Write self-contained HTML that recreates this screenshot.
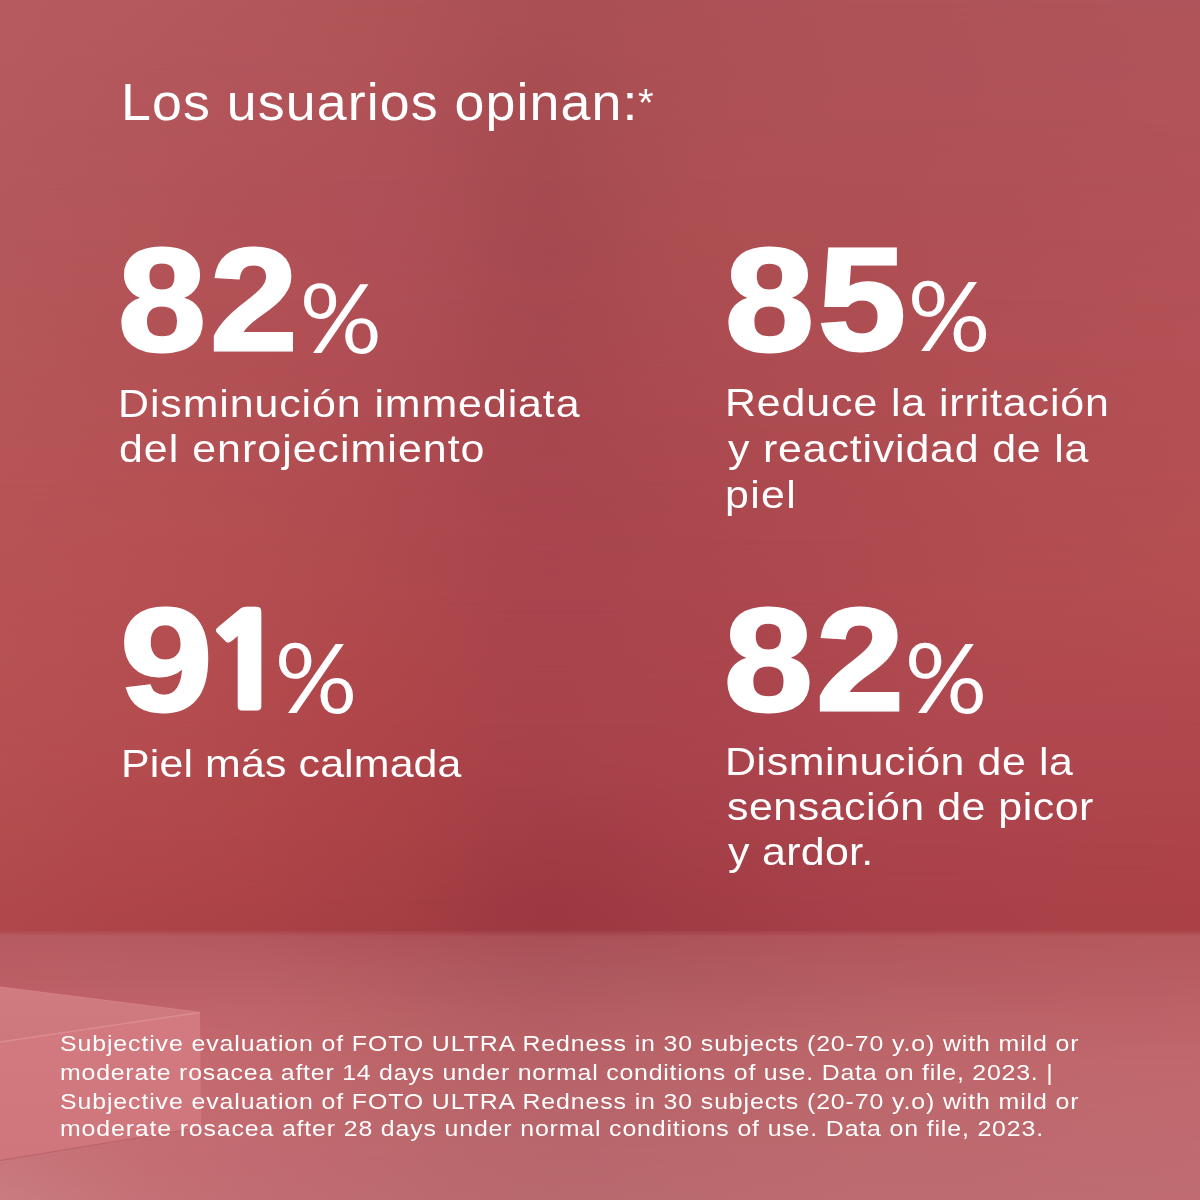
<!DOCTYPE html>
<html lang="es"><head><meta charset="utf-8">
<title>Los usuarios opinan</title>
<style>
html,body{margin:0;padding:0;}
body{width:1200px;height:1200px;overflow:hidden;position:relative;background:#ac4e56;font-family:"Liberation Sans",sans-serif;color:#fff;}
.t{position:absolute;white-space:nowrap;transform-origin:0 0;}
.b{font-weight:bold;}
.bd{position:absolute;left:0;width:1200px;}
.mk{position:absolute;left:0;top:0;width:100%;height:100%;-webkit-mask-image:linear-gradient(to bottom,transparent,#000);mask-image:linear-gradient(to bottom,transparent,#000);}
.box{position:absolute;left:0;top:0;}
.fl{position:absolute;left:0;top:0;width:1200px;height:1200px;-webkit-mask-image:linear-gradient(to bottom,transparent 930px,#000 936px);mask-image:linear-gradient(to bottom,transparent 930px,#000 936px);}
</style></head><body>
<div class="bd" style="top:0px;height:60px;background:linear-gradient(to right,#b75b5f 0px,#b65a5f 50px,#b65a5e 100px,#b5595e 150px,#b4585d 200px,#b3575c 250px,#b2565a 300px,#b15558 350px,#b05457 400px,#ae5256 450px,#ac5154 500px,#ab5054 550px,#ab5054 600px,#ac5155 650px,#ad5156 700px,#ae5157 750px,#ae5257 800px,#af5358 850px,#af5358 900px,#af5358 950px,#af5459 1000px,#b05459 1050px,#b05459 1100px,#b0555a 1150px,#b0555a 1200px)"><div class="mk" style="background:linear-gradient(to right,#b65a5e 0px,#b5595d 50px,#b5585d 100px,#b4575c 150px,#b3565b 200px,#b3555b 250px,#b25559 300px,#b15458 350px,#b05257 400px,#ad5155 450px,#aa4f53 500px,#a94e53 550px,#aa4f53 600px,#ac5054 650px,#ad5055 700px,#ae5156 750px,#ae5156 800px,#af5257 850px,#af5257 900px,#af5258 950px,#b05358 1000px,#b05358 1050px,#b05359 1100px,#b15459 1150px,#b15459 1200px)"></div></div>
<div class="bd" style="top:60px;height:60px;background:linear-gradient(to right,#b65a5e 0px,#b5595d 50px,#b5585d 100px,#b4575c 150px,#b3565b 200px,#b3555b 250px,#b25559 300px,#b15458 350px,#b05257 400px,#ad5155 450px,#aa4f53 500px,#a94e53 550px,#aa4f53 600px,#ac5054 650px,#ad5055 700px,#ae5156 750px,#ae5156 800px,#af5257 850px,#af5257 900px,#af5258 950px,#b05358 1000px,#b05358 1050px,#b05359 1100px,#b15459 1150px,#b15459 1200px)"><div class="mk" style="background:linear-gradient(to right,#b5595d 0px,#b4585c 50px,#b4575b 100px,#b3565b 150px,#b3555a 200px,#b25459 250px,#b15358 300px,#b05257 350px,#af5156 400px,#ac4f55 450px,#a94d52 500px,#a74d51 550px,#a94e52 600px,#ab4f53 650px,#ad5054 700px,#ae5055 750px,#ae5155 800px,#af5156 850px,#af5156 900px,#af5157 950px,#b05257 1000px,#b05258 1050px,#b15258 1100px,#b25358 1150px,#b25359 1200px)"></div></div>
<div class="bd" style="top:120px;height:60px;background:linear-gradient(to right,#b5595d 0px,#b4585c 50px,#b4575b 100px,#b3565b 150px,#b3555a 200px,#b25459 250px,#b15358 300px,#b05257 350px,#af5156 400px,#ac4f55 450px,#a94d52 500px,#a74d51 550px,#a94e52 600px,#ab4f53 650px,#ad5054 700px,#ae5055 750px,#ae5155 800px,#af5156 850px,#af5156 900px,#af5157 950px,#b05257 1000px,#b05258 1050px,#b15258 1100px,#b25358 1150px,#b25359 1200px)"><div class="mk" style="background:linear-gradient(to right,#b4585c 0px,#b4575b 50px,#b3565a 100px,#b35559 150px,#b25358 200px,#b15258 250px,#b15157 300px,#b05057 350px,#af4f56 400px,#ac4e54 450px,#a84c51 500px,#a64b50 550px,#a84d51 600px,#ab4e52 650px,#ad4f53 700px,#ae5054 750px,#ae5054 800px,#af5055 850px,#af5055 900px,#b05156 950px,#b05156 1000px,#b15157 1050px,#b25257 1100px,#b25258 1150px,#b35258 1200px)"></div></div>
<div class="bd" style="top:180px;height:60px;background:linear-gradient(to right,#b4585c 0px,#b4575b 50px,#b3565a 100px,#b35559 150px,#b25358 200px,#b15258 250px,#b15157 300px,#b05057 350px,#af4f56 400px,#ac4e54 450px,#a84c51 500px,#a64b50 550px,#a84d51 600px,#ab4e52 650px,#ad4f53 700px,#ae5054 750px,#ae5054 800px,#af5055 850px,#af5055 900px,#b05156 950px,#b05156 1000px,#b15157 1050px,#b25257 1100px,#b25258 1150px,#b35258 1200px)"><div class="mk" style="background:linear-gradient(to right,#b4575b 0px,#b4565a 50px,#b35559 100px,#b35458 150px,#b25257 200px,#b15157 250px,#b15056 300px,#b04f56 350px,#af4e56 400px,#ac4d53 450px,#a84b51 500px,#a64a50 550px,#a84b50 600px,#ab4d51 650px,#ad4e52 700px,#ae4f53 750px,#ae4f53 800px,#ae4f54 850px,#af4f54 900px,#b05055 950px,#b05055 1000px,#b15056 1050px,#b25156 1100px,#b25157 1150px,#b35257 1200px)"></div></div>
<div class="bd" style="top:240px;height:60px;background:linear-gradient(to right,#b4575b 0px,#b4565a 50px,#b35559 100px,#b35458 150px,#b25257 200px,#b15157 250px,#b15056 300px,#b04f56 350px,#af4e56 400px,#ac4d53 450px,#a84b51 500px,#a64a50 550px,#a84b50 600px,#ab4d51 650px,#ad4e52 700px,#ae4f53 750px,#ae4f53 800px,#ae4f54 850px,#af4f54 900px,#b05055 950px,#b05055 1000px,#b15056 1050px,#b25156 1100px,#b25157 1150px,#b35257 1200px)"><div class="mk" style="background:linear-gradient(to right,#b5575a 0px,#b45559 50px,#b45458 100px,#b35357 150px,#b25256 200px,#b25156 250px,#b15055 300px,#b04f55 350px,#af4e55 400px,#ac4c53 450px,#a84a50 500px,#a7494f 550px,#a84a50 600px,#ab4c51 650px,#ad4d52 700px,#ad4e52 750px,#ae4e53 800px,#ae4e53 850px,#af4f53 900px,#b04f54 950px,#b04f55 1000px,#b15055 1050px,#b25056 1100px,#b35156 1150px,#b35157 1200px)"></div></div>
<div class="bd" style="top:300px;height:60px;background:linear-gradient(to right,#b5575a 0px,#b45559 50px,#b45458 100px,#b35357 150px,#b25256 200px,#b25156 250px,#b15055 300px,#b04f55 350px,#af4e55 400px,#ac4c53 450px,#a84a50 500px,#a7494f 550px,#a84a50 600px,#ab4c51 650px,#ad4d52 700px,#ad4e52 750px,#ae4e53 800px,#ae4e53 850px,#af4f53 900px,#b04f54 950px,#b04f55 1000px,#b15055 1050px,#b25056 1100px,#b35156 1150px,#b35157 1200px)"><div class="mk" style="background:linear-gradient(to right,#b55659 0px,#b55558 50px,#b45357 100px,#b45256 150px,#b35155 200px,#b25055 250px,#b14f54 300px,#b04e54 350px,#ae4d53 400px,#ac4b51 450px,#a8494f 500px,#a7484f 550px,#a9494f 600px,#ab4b50 650px,#ac4c51 700px,#ad4c51 750px,#ae4d52 800px,#ae4d52 850px,#af4e52 900px,#b04e53 950px,#b14f54 1000px,#b14f54 1050px,#b25055 1100px,#b35055 1150px,#b45156 1200px)"></div></div>
<div class="bd" style="top:360px;height:60px;background:linear-gradient(to right,#b55659 0px,#b55558 50px,#b45357 100px,#b45256 150px,#b35155 200px,#b25055 250px,#b14f54 300px,#b04e54 350px,#ae4d53 400px,#ac4b51 450px,#a8494f 500px,#a7484f 550px,#a9494f 600px,#ab4b50 650px,#ac4c51 700px,#ad4c51 750px,#ae4d52 800px,#ae4d52 850px,#af4e52 900px,#b04e53 950px,#b14f54 1000px,#b14f54 1050px,#b25055 1100px,#b35055 1150px,#b45156 1200px)"><div class="mk" style="background:linear-gradient(to right,#b65558 0px,#b55457 50px,#b55356 100px,#b45255 150px,#b35154 200px,#b25054 250px,#b14f53 300px,#b04d52 350px,#ae4c52 400px,#ac4a50 450px,#a9484f 500px,#a8474e 550px,#a9484e 600px,#ab494f 650px,#ac4a50 700px,#ad4b50 750px,#ae4c51 800px,#ae4c51 850px,#af4d52 900px,#b04e52 950px,#b14e53 1000px,#b14f53 1050px,#b24f54 1100px,#b35054 1150px,#b45055 1200px)"></div></div>
<div class="bd" style="top:420px;height:60px;background:linear-gradient(to right,#b65558 0px,#b55457 50px,#b55356 100px,#b45255 150px,#b35154 200px,#b25054 250px,#b14f53 300px,#b04d52 350px,#ae4c52 400px,#ac4a50 450px,#a9484f 500px,#a8474e 550px,#a9484e 600px,#ab494f 650px,#ac4a50 700px,#ad4b50 750px,#ae4c51 800px,#ae4c51 850px,#af4d52 900px,#b04e52 950px,#b14e53 1000px,#b14f53 1050px,#b24f54 1100px,#b35054 1150px,#b45055 1200px)"><div class="mk" style="background:linear-gradient(to right,#b75457 0px,#b65356 50px,#b55255 100px,#b55154 150px,#b45053 200px,#b34f53 250px,#b14e52 300px,#b04d51 350px,#ae4b50 400px,#ac494f 450px,#a9474e 500px,#a9464e 550px,#a9474e 600px,#aa484e 650px,#ac494f 700px,#ac4a4f 750px,#ad4a50 800px,#ae4b50 850px,#af4c51 900px,#b04d51 950px,#b14e52 1000px,#b24e52 1050px,#b24f53 1100px,#b34f53 1150px,#b45054 1200px)"></div></div>
<div class="bd" style="top:480px;height:60px;background:linear-gradient(to right,#b75457 0px,#b65356 50px,#b55255 100px,#b55154 150px,#b45053 200px,#b34f53 250px,#b14e52 300px,#b04d51 350px,#ae4b50 400px,#ac494f 450px,#a9474e 500px,#a9464e 550px,#a9474e 600px,#aa484e 650px,#ac494f 700px,#ac4a4f 750px,#ad4a50 800px,#ae4b50 850px,#af4c51 900px,#b04d51 950px,#b14e52 1000px,#b24e52 1050px,#b24f53 1100px,#b34f53 1150px,#b45054 1200px)"><div class="mk" style="background:linear-gradient(to right,#b75355 0px,#b65255 50px,#b65154 100px,#b55053 150px,#b44f52 200px,#b34e51 250px,#b14d50 300px,#b04c4f 350px,#ae4a4f 400px,#ac484e 450px,#aa464d 500px,#a9454d 550px,#a9464d 600px,#aa474e 650px,#ab474e 700px,#ac484f 750px,#ad494f 800px,#ae4a50 850px,#af4b50 900px,#b04c51 950px,#b14d51 1000px,#b24d51 1050px,#b24e52 1100px,#b34f52 1150px,#b44f52 1200px)"></div></div>
<div class="bd" style="top:540px;height:60px;background:linear-gradient(to right,#b75355 0px,#b65255 50px,#b65154 100px,#b55053 150px,#b44f52 200px,#b34e51 250px,#b14d50 300px,#b04c4f 350px,#ae4a4f 400px,#ac484e 450px,#aa464d 500px,#a9454d 550px,#a9464d 600px,#aa474e 650px,#ab474e 700px,#ac484f 750px,#ad494f 800px,#ae4a50 850px,#af4b50 900px,#b04c51 950px,#b14d51 1000px,#b24d51 1050px,#b24e52 1100px,#b34f52 1150px,#b44f52 1200px)"><div class="mk" style="background:linear-gradient(to right,#b75254 0px,#b65154 50px,#b65053 100px,#b54f52 150px,#b44e51 200px,#b34d50 250px,#b14c4f 300px,#b04a4e 350px,#ae494d 400px,#ac474d 450px,#aa454d 500px,#a9454d 550px,#a9454d 600px,#aa464d 650px,#ab464e 700px,#ac474e 750px,#ad484f 800px,#ae494f 850px,#af4a50 900px,#b04b50 950px,#b14c50 1000px,#b14c51 1050px,#b24d51 1100px,#b34d51 1150px,#b44e51 1200px)"></div></div>
<div class="bd" style="top:600px;height:60px;background:linear-gradient(to right,#b75254 0px,#b65154 50px,#b65053 100px,#b54f52 150px,#b44e51 200px,#b34d50 250px,#b14c4f 300px,#b04a4e 350px,#ae494d 400px,#ac474d 450px,#aa454d 500px,#a9454d 550px,#a9454d 600px,#aa464d 650px,#ab464e 700px,#ac474e 750px,#ad484f 800px,#ae494f 850px,#af4a50 900px,#b04b50 950px,#b14c50 1000px,#b14c51 1050px,#b24d51 1100px,#b34d51 1150px,#b44e51 1200px)"><div class="mk" style="background:linear-gradient(to right,#b65253 0px,#b65053 50px,#b54f52 100px,#b44e51 150px,#b44d50 200px,#b34c4f 250px,#b14a4d 300px,#b0484c 350px,#ae474b 400px,#ac464b 450px,#a9444c 500px,#a9444c 550px,#a9444c 600px,#aa454d 650px,#ab454d 700px,#ab464e 750px,#ad474e 800px,#ae484f 850px,#af4950 900px,#af4950 950px,#b04a50 1000px,#b14a50 1050px,#b14a50 1100px,#b24b50 1150px,#b24b50 1200px)"></div></div>
<div class="bd" style="top:660px;height:60px;background:linear-gradient(to right,#b65253 0px,#b65053 50px,#b54f52 100px,#b44e51 150px,#b44d50 200px,#b34c4f 250px,#b14a4d 300px,#b0484c 350px,#ae474b 400px,#ac464b 450px,#a9444c 500px,#a9444c 550px,#a9444c 600px,#aa454d 650px,#ab454d 700px,#ab464e 750px,#ad474e 800px,#ae484f 850px,#af4950 900px,#af4950 950px,#b04a50 1000px,#b14a50 1050px,#b14a50 1100px,#b24b50 1150px,#b24b50 1200px)"><div class="mk" style="background:linear-gradient(to right,#b55052 0px,#b54f51 50px,#b44e51 100px,#b44d50 150px,#b34c4f 200px,#b24a4d 250px,#b1484b 300px,#b0464a 350px,#ae454a 400px,#ac444a 450px,#a9444b 500px,#a8434b 550px,#a9444c 600px,#a9444c 650px,#aa444c 700px,#ab454d 750px,#ac464e 800px,#ad474f 850px,#ae484f 900px,#af484f 950px,#af484f 1000px,#b0484f 1050px,#b0484f 1100px,#b0484f 1150px,#b1484f 1200px)"></div></div>
<div class="bd" style="top:720px;height:60px;background:linear-gradient(to right,#b55052 0px,#b54f51 50px,#b44e51 100px,#b44d50 150px,#b34c4f 200px,#b24a4d 250px,#b1484b 300px,#b0464a 350px,#ae454a 400px,#ac444a 450px,#a9444b 500px,#a8434b 550px,#a9444c 600px,#a9444c 650px,#aa444c 700px,#ab454d 750px,#ac464e 800px,#ad474f 850px,#ae484f 900px,#af484f 950px,#af484f 1000px,#b0484f 1050px,#b0484f 1100px,#b0484f 1150px,#b1484f 1200px)"><div class="mk" style="background:linear-gradient(to right,#b44f51 0px,#b44d50 50px,#b34c4f 100px,#b34b4e 150px,#b24a4d 200px,#b1484b 250px,#b0464a 300px,#af4449 350px,#ad4348 400px,#aa4248 450px,#a74149 500px,#a64149 550px,#a7424a 600px,#a8424a 650px,#a9434b 700px,#aa434c 750px,#ab444d 800px,#ac454e 850px,#ad464e 900px,#ae464e 950px,#ae464e 1000px,#ae464d 1050px,#af464d 1100px,#af464d 1150px,#af464d 1200px)"></div></div>
<div class="bd" style="top:780px;height:60px;background:linear-gradient(to right,#b44f51 0px,#b44d50 50px,#b34c4f 100px,#b34b4e 150px,#b24a4d 200px,#b1484b 250px,#b0464a 300px,#af4449 350px,#ad4348 400px,#aa4248 450px,#a74149 500px,#a64149 550px,#a7424a 600px,#a8424a 650px,#a9434b 700px,#aa434c 750px,#ab444d 800px,#ac454e 850px,#ad464e 900px,#ae464e 950px,#ae464e 1000px,#ae464d 1050px,#af464d 1100px,#af464d 1150px,#af464d 1200px)"><div class="mk" style="background:linear-gradient(to right,#b24c4e 0px,#b14b4d 50px,#b1494c 100px,#b1484b 150px,#b0474a 200px,#af4649 250px,#ad4448 300px,#ab4347 350px,#a94246 400px,#a64046 450px,#a23e45 500px,#a13d45 550px,#a23d45 600px,#a43e47 650px,#a64048 700px,#a74149 750px,#a8424a 800px,#aa434b 850px,#ab434b 900px,#ab434b 950px,#ac434b 1000px,#ac434b 1050px,#ad444b 1100px,#ad444a 1150px,#ae444a 1200px)"></div></div>
<div class="bd" style="top:840px;height:60px;background:linear-gradient(to right,#b24c4e 0px,#b14b4d 50px,#b1494c 100px,#b1484b 150px,#b0474a 200px,#af4649 250px,#ad4448 300px,#ab4347 350px,#a94246 400px,#a64046 450px,#a23e45 500px,#a13d45 550px,#a23d45 600px,#a43e47 650px,#a64048 700px,#a74149 750px,#a8424a 800px,#aa434b 850px,#ab434b 900px,#ab434b 950px,#ac434b 1000px,#ac434b 1050px,#ad444b 1100px,#ad444a 1150px,#ae444a 1200px)"><div class="mk" style="background:linear-gradient(to right,#b0494c 0px,#af484b 50px,#af464a 100px,#ae4549 150px,#ad4448 200px,#ac4347 250px,#aa4247 300px,#a74146 350px,#a54045 400px,#a23d43 450px,#9e3a42 500px,#9d3941 550px,#9e3a42 600px,#a03c44 650px,#a23d45 700px,#a43e46 750px,#a53f48 800px,#a74049 850px,#a84149 900px,#a94149 950px,#aa4149 1000px,#aa4249 1050px,#ab4248 1100px,#ab4248 1150px,#ac4248 1200px)"></div></div>
<div class="bd" style="top:900px;height:40px;background:linear-gradient(to right,#b0494c 0px,#af484b 50px,#af464a 100px,#ae4549 150px,#ad4448 200px,#ac4347 250px,#aa4247 300px,#a74146 350px,#a54045 400px,#a23d43 450px,#9e3a42 500px,#9d3941 550px,#9e3a42 600px,#a03c44 650px,#a23d45 700px,#a43e46 750px,#a53f48 800px,#a74049 850px,#a84149 900px,#a94149 950px,#aa4149 1000px,#aa4249 1050px,#ab4248 1100px,#ab4248 1150px,#ac4248 1200px)"><div class="mk" style="background:linear-gradient(to right,#af474b 0px,#ae464a 50px,#ad4449 100px,#ac4348 150px,#ab4247 200px,#a94146 250px,#a74046 300px,#a53f45 350px,#a33e44 400px,#a03c42 450px,#9d3941 500px,#9c3840 550px,#9d3941 600px,#9e3b43 650px,#a03c44 700px,#a23d45 750px,#a33e47 800px,#a53f48 850px,#a64048 900px,#a74048 950px,#a84048 1000px,#a84148 1050px,#a94147 1100px,#a94147 1150px,#aa4147 1200px)"></div></div>
<div class="fl"><div class="bd" style="top:930px;height:45px;background:linear-gradient(to right,#b65b62 0px,#b65a61 50px,#b55a61 100px,#b55960 150px,#b4585f 200px,#b3575e 250px,#b1555c 300px,#b0535a 350px,#ae5259 400px,#ac5158 450px,#aa4f56 500px,#a94f56 550px,#aa5057 600px,#ab5158 650px,#ad5259 700px,#ae535a 750px,#b0545a 800px,#b1555b 850px,#b2565b 900px,#b3575c 950px,#b4575c 1000px,#b4585c 1050px,#b5585d 1100px,#b5595d 1150px,#b6595e 1200px)"><div class="mk" style="background:linear-gradient(to right,#bb5e64 0px,#bb5f64 50px,#ba5f65 100px,#ba5f65 150px,#ba5f65 200px,#b95f65 250px,#b75e63 300px,#b55d61 350px,#b35b60 400px,#b05a5f 450px,#ae595e 500px,#ad585d 550px,#ad595e 600px,#ae5a5e 650px,#af5a5f 700px,#b05b60 750px,#b25b60 800px,#b35c61 850px,#b45c61 900px,#b55c61 950px,#b65c61 1000px,#b75c61 1050px,#b85d61 1100px,#b85d62 1150px,#b95d62 1200px)"></div></div>
<div class="bd" style="top:975px;height:45px;background:linear-gradient(to right,#bb5e64 0px,#bb5f64 50px,#ba5f65 100px,#ba5f65 150px,#ba5f65 200px,#b95f65 250px,#b75e63 300px,#b55d61 350px,#b35b60 400px,#b05a5f 450px,#ae595e 500px,#ad585d 550px,#ad595e 600px,#ae5a5e 650px,#af5a5f 700px,#b05b60 750px,#b25b60 800px,#b35c61 850px,#b45c61 900px,#b55c61 950px,#b65c61 1000px,#b75c61 1050px,#b85d61 1100px,#b85d62 1150px,#b95d62 1200px)"><div class="mk" style="background:linear-gradient(to right,#c0646a 0px,#c1646a 50px,#c1646a 100px,#c1656b 150px,#c1656b 200px,#c0656b 250px,#be6469 300px,#bb6367 350px,#b96265 400px,#b76065 450px,#b55f64 500px,#b45e64 550px,#b55f64 600px,#b56065 650px,#b66065 700px,#b76166 750px,#b86266 800px,#b96367 850px,#ba6367 900px,#bb6367 950px,#bb6368 1000px,#bc6368 1050px,#bd6368 1100px,#bd6368 1150px,#be6468 1200px)"></div></div>
<div class="bd" style="top:1020px;height:45px;background:linear-gradient(to right,#c0646a 0px,#c1646a 50px,#c1646a 100px,#c1656b 150px,#c1656b 200px,#c0656b 250px,#be6469 300px,#bb6367 350px,#b96265 400px,#b76065 450px,#b55f64 500px,#b45e64 550px,#b55f64 600px,#b56065 650px,#b66065 700px,#b76166 750px,#b86266 800px,#b96367 850px,#ba6367 900px,#bb6367 950px,#bb6368 1000px,#bc6368 1050px,#bd6368 1100px,#bd6368 1150px,#be6468 1200px)"><div class="mk" style="background:linear-gradient(to right,#c46a70 0px,#c46a70 50px,#c4696f 100px,#c4696f 150px,#c4696f 200px,#c3696e 250px,#c1686d 300px,#be666b 350px,#bc6569 400px,#ba6469 450px,#b96368 500px,#b86268 550px,#b86369 600px,#b96469 650px,#ba6469 700px,#bb656a 750px,#bc666a 800px,#bc676b 850px,#bd676b 900px,#be676c 950px,#be686c 1000px,#bf686c 1050px,#bf686d 1100px,#c0686d 1150px,#c0686d 1200px)"></div></div>
<div class="bd" style="top:1065px;height:45px;background:linear-gradient(to right,#c46a70 0px,#c46a70 50px,#c4696f 100px,#c4696f 150px,#c4696f 200px,#c3696e 250px,#c1686d 300px,#be666b 350px,#bc6569 400px,#ba6469 450px,#b96368 500px,#b86268 550px,#b86369 600px,#b96469 650px,#ba6469 700px,#bb656a 750px,#bc666a 800px,#bc676b 850px,#bd676b 900px,#be676c 950px,#be686c 1000px,#bf686c 1050px,#bf686d 1100px,#c0686d 1150px,#c0686d 1200px)"><div class="mk" style="background:linear-gradient(to right,#c67075 0px,#c56f74 50px,#c56d73 100px,#c46c72 150px,#c46b71 200px,#c36a70 250px,#c0696e 300px,#be686d 350px,#bc676c 400px,#ba666b 450px,#b9656b 500px,#b8656b 550px,#b8656b 600px,#b9666b 650px,#ba676c 700px,#bb676c 750px,#bb686c 800px,#bc686d 850px,#bd696d 900px,#bd696e 950px,#be696e 1000px,#be696e 1050px,#bf6a6f 1100px,#bf6a6f 1150px,#c06a6f 1200px)"></div></div>
<div class="bd" style="top:1110px;height:45px;background:linear-gradient(to right,#c67075 0px,#c56f74 50px,#c56d73 100px,#c46c72 150px,#c46b71 200px,#c36a70 250px,#c0696e 300px,#be686d 350px,#bc676c 400px,#ba666b 450px,#b9656b 500px,#b8656b 550px,#b8656b 600px,#b9666b 650px,#ba676c 700px,#bb676c 750px,#bb686c 800px,#bc686d 850px,#bd696d 900px,#bd696e 950px,#be696e 1000px,#be696e 1050px,#bf6a6f 1100px,#bf6a6f 1150px,#c06a6f 1200px)"><div class="mk" style="background:linear-gradient(to right,#c8767a 0px,#c67378 50px,#c57175 100px,#c46e73 150px,#c36d72 200px,#c16b71 250px,#c06a70 300px,#be696f 350px,#bc696e 400px,#ba686d 450px,#b9676d 500px,#b8676c 550px,#b8676d 600px,#b9686d 650px,#ba686d 700px,#bb696e 750px,#bb696e 800px,#bc6a6e 850px,#bc6a6f 900px,#bd6a6f 950px,#bd6a6f 1000px,#be6a70 1050px,#be6b70 1100px,#be6b70 1150px,#bf6b71 1200px)"></div></div>
<div class="bd" style="top:1155px;height:45px;background:linear-gradient(to right,#c8767a 0px,#c67378 50px,#c57175 100px,#c46e73 150px,#c36d72 200px,#c16b71 250px,#c06a70 300px,#be696f 350px,#bc696e 400px,#ba686d 450px,#b9676d 500px,#b8676c 550px,#b8676d 600px,#b9686d 650px,#ba686d 700px,#bb696e 750px,#bb696e 800px,#bc6a6e 850px,#bc6a6f 900px,#bd6a6f 950px,#bd6a6f 1000px,#be6a70 1050px,#be6b70 1100px,#be6b70 1150px,#bf6b71 1200px)"><div class="mk" style="background:linear-gradient(to right,#c97c7f 0px,#c7787c 50px,#c57478 100px,#c47075 150px,#c26e73 200px,#c06d72 250px,#bf6b71 300px,#bd6b71 350px,#bc6a70 400px,#ba696f 450px,#b9696e 500px,#b8696e 550px,#b8696e 600px,#b96a6f 650px,#ba6a6f 700px,#bb6a6f 750px,#bb6b6f 800px,#bc6b70 850px,#bc6b70 900px,#bc6b70 950px,#bd6b71 1000px,#bd6c71 1050px,#bd6c71 1100px,#be6c72 1150px,#be6c72 1200px)"></div></div></div>
<svg class="box" width="1200" height="1200" viewBox="0 0 1200 1200">
<defs>
<linearGradient id="gt" x1="0" y1="987" x2="0" y2="1042" gradientUnits="userSpaceOnUse"><stop offset="0" stop-color="#cf7b7f"/><stop offset="1" stop-color="#cc787c"/></linearGradient>
<linearGradient id="gf" x1="0" y1="1020" x2="0" y2="1160" gradientUnits="userSpaceOnUse"><stop offset="0" stop-color="#d27a7f"/><stop offset="1" stop-color="#cf767c"/></linearGradient>
</defs>
<polygon points="0,987 200,1012.4 0,1042" fill="url(#gt)"/>
<polygon points="0,1042 200,1012.4 201,1127 0,1160" fill="url(#gf)"/>
<line x1="0" y1="1042" x2="200" y2="1012.4" stroke="#dc8c90" stroke-width="1.5"/>
<line x1="0" y1="987" x2="200" y2="1012.4" stroke="#d38286" stroke-width="1"/>
<line x1="0" y1="1160.5" x2="201" y2="1127.5" stroke="#b8646a" stroke-width="1.2"/>
</svg>
<div class="t" style="left:120.59px;top:77.0px;font-size:51.66px;line-height:51.66px;letter-spacing:1.039px;transform:scaleX(1.04)">Los usuarios opinan:</div>
<div class="t" style="left:637.5px;top:83.5px;font-size:38.62px;line-height:38.62px;transform:scaleX(1.0385);">*</div>
<div class="t b" style="left:118.4px;top:226.8px;font-size:147.14px;line-height:147.14px;transform:scaleX(1.075);-webkit-text-stroke:3.0px #fff;">8</div>
<div class="t b" style="left:210.2px;top:226.0px;font-size:147.26px;line-height:147.26px;transform:scaleX(1.0703);-webkit-text-stroke:3.0px #fff;">2</div>
<div class="t" style="left:300.7px;top:269.5px;font-size:100.37px;line-height:100.37px;transform:scaleX(1.1323);font-family:'WenQuanYi Zen Hei','Liberation Sans',sans-serif;">%</div>
<div class="t" style="left:118.33px;top:384.0px;font-size:39.36px;line-height:39.36px;letter-spacing:0.828px;transform:scaleX(1.09)">Disminución immediata</div>
<div class="t" style="left:119.42px;top:429.4px;font-size:39.36px;line-height:39.36px;letter-spacing:0.931px;transform:scaleX(1.09)">del enrojecimiento</div>
<div class="t b" style="left:725.0px;top:227.7px;font-size:146.33px;line-height:146.33px;transform:scaleX(1.0933);-webkit-text-stroke:3.0px #fff;">8</div>
<div class="t b" style="left:817.7px;top:225.9px;font-size:146.85px;line-height:146.85px;transform:scaleX(1.0776);-webkit-text-stroke:3.0px #fff;">5</div>
<div class="t" style="left:909.0px;top:268.3px;font-size:100.79px;line-height:100.79px;transform:scaleX(1.1354);font-family:'WenQuanYi Zen Hei','Liberation Sans',sans-serif;">%</div>
<div class="t" style="left:725.03px;top:382.8px;font-size:39.36px;line-height:39.36px;letter-spacing:0.807px;transform:scaleX(1.09)">Reduce la irritación</div>
<div class="t" style="left:727.5px;top:428.7px;font-size:39.36px;line-height:39.36px;letter-spacing:0.748px;transform:scaleX(1.09)">y reactividad de la</div>
<div class="t" style="left:725.03px;top:474.5px;font-size:39.36px;line-height:39.36px;letter-spacing:1.211px;transform:scaleX(1.09)">piel</div>
<div class="t b" style="left:120.3px;top:587.7px;font-size:146.33px;line-height:146.33px;transform:scaleX(1.1384);-webkit-text-stroke:3.0px #fff;">9</div>
<div class="t" style="left:201.7px;top:597.9px;font-size:130.15px;line-height:130.15px;transform:scaleX(1.1293);-webkit-text-stroke:3.0px #fff;font-family:NanumGothic,'Liberation Sans',sans-serif;font-weight:800;">1</div>
<div class="t" style="left:275.6px;top:629.5px;font-size:100.79px;line-height:100.79px;transform:scaleX(1.1338);font-family:'WenQuanYi Zen Hei','Liberation Sans',sans-serif;">%</div>
<div class="t" style="left:120.63px;top:743.6px;font-size:39.36px;line-height:39.36px;letter-spacing:0.115px;transform:scaleX(1.09)">Piel más calmada</div>
<div class="t b" style="left:723.9px;top:587.7px;font-size:146.33px;line-height:146.33px;transform:scaleX(1.092);-webkit-text-stroke:3.0px #fff;">8</div>
<div class="t b" style="left:815.5px;top:586.0px;font-size:147.26px;line-height:147.26px;transform:scaleX(1.0743);-webkit-text-stroke:3.0px #fff;">2</div>
<div class="t" style="left:905.6px;top:629.5px;font-size:100.79px;line-height:100.79px;transform:scaleX(1.1323);font-family:'WenQuanYi Zen Hei','Liberation Sans',sans-serif;">%</div>
<div class="t" style="left:725.03px;top:742.0px;font-size:39.36px;line-height:39.36px;letter-spacing:0.532px;transform:scaleX(1.09)">Disminución de la</div>
<div class="t" style="left:727.21px;top:787.0px;font-size:39.36px;line-height:39.36px;letter-spacing:0.462px;transform:scaleX(1.09)">sensación de picor</div>
<div class="t" style="left:728.3px;top:832.0px;font-size:39.36px;line-height:39.36px;letter-spacing:0.286px;transform:scaleX(1.09)">y ardor.</div>
<div class="t" style="left:60.16px;top:1032.25px;font-size:22.84px;line-height:22.84px;letter-spacing:0.812px;transform:scaleX(1.09)">Subjective evaluation of FOTO ULTRA Redness in 30 subjects (20-70 y.o) with mild or</div>
<div class="t" style="left:60.16px;top:1061.0px;font-size:22.84px;line-height:22.84px;letter-spacing:0.718px;transform:scaleX(1.09)">moderate rosacea after 14 days under normal conditions of use. Data on file, 2023. |</div>
<div class="t" style="left:60.16px;top:1089.75px;font-size:22.84px;line-height:22.84px;letter-spacing:0.812px;transform:scaleX(1.09)">Subjective evaluation of FOTO ULTRA Redness in 30 subjects (20-70 y.o) with mild or</div>
<div class="t" style="left:60.16px;top:1117.25px;font-size:22.84px;line-height:22.84px;letter-spacing:0.779px;transform:scaleX(1.09)">moderate rosacea after 28 days under normal conditions of use. Data on file, 2023.</div>
</body></html>
